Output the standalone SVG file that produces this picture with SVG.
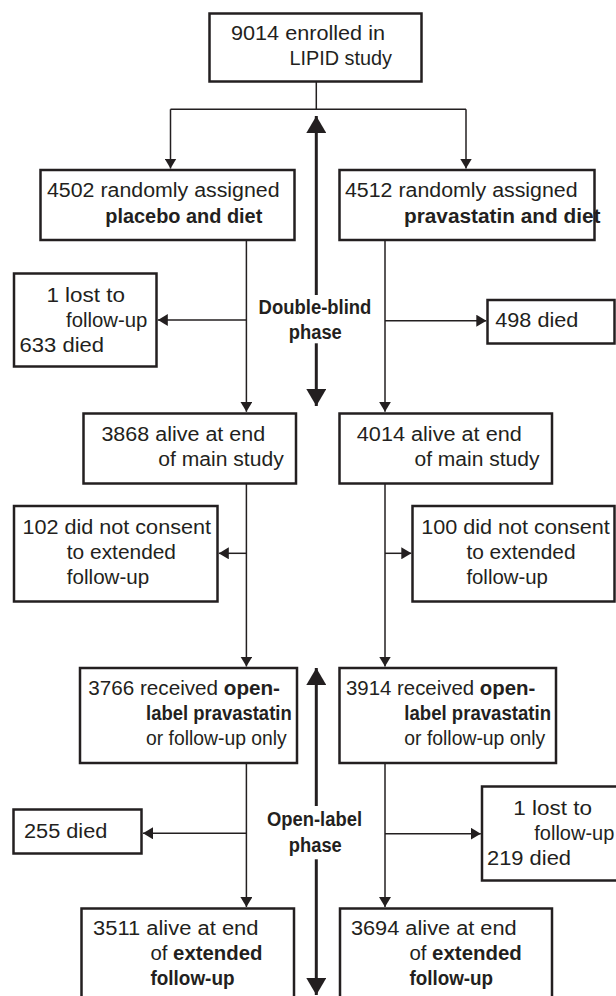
<svg xmlns="http://www.w3.org/2000/svg" width="616" height="996" viewBox="0 0 616 996">
<style>
.box{fill:#fff;stroke:#231f20;stroke-width:2.5}
.ln{fill:none;stroke:#231f20;stroke-width:1.5}
.ph{fill:none;stroke:#231f20;stroke-width:3}
text{font-family:"Liberation Sans",Arial,sans-serif;font-size:19.5px;fill:#231f20}
.b{font-weight:bold}
.lbl{font-weight:bold;font-size:19.5px;text-anchor:middle}
</style>
<defs>
<marker id="ah" viewBox="0 0 10 12" refX="10" refY="6" markerWidth="10" markerHeight="12" markerUnits="userSpaceOnUse" orient="auto"><path d="M0,0L10,6L0,12z" fill="#231f20"/></marker>
<marker id="ahT" viewBox="0 0 17 20" refX="17" refY="10" markerWidth="17" markerHeight="20" markerUnits="userSpaceOnUse" orient="auto"><path d="M0,0L17,10L0,20z" fill="#231f20"/></marker>
</defs>
<rect width="616" height="996" fill="#fff"/>
<g id="connectors">
<path class="ln" d="M316.3,81.7V109.3M170.5,109.3H466"/>
<path class="ln" d="M170.5,109.3V168.5" marker-end="url(#ah)"/>
<path class="ln" d="M466,109.3V168.5" marker-end="url(#ah)"/>
<path class="ln" d="M246.4,240V411.8" marker-end="url(#ah)"/>
<path class="ln" d="M246.4,320H157.8" marker-end="url(#ah)"/>
<path class="ln" d="M385,240V411.8" marker-end="url(#ah)"/>
<path class="ln" d="M385,320.7H486.3" marker-end="url(#ah)"/>
<path class="ln" d="M246.4,483.5V666.5" marker-end="url(#ah)"/>
<path class="ln" d="M246.4,553.3H218.8" marker-end="url(#ah)"/>
<path class="ln" d="M385,483.5V666.5" marker-end="url(#ah)"/>
<path class="ln" d="M385,553.3H411.3" marker-end="url(#ah)"/>
<path class="ln" d="M246.4,763V907" marker-end="url(#ah)"/>
<path class="ln" d="M246.4,833.3H143" marker-end="url(#ah)"/>
<path class="ln" d="M385,763V907" marker-end="url(#ah)"/>
<path class="ln" d="M385,833.7H480.8" marker-end="url(#ah)"/>
<path class="ph" d="M316.3,295V116" marker-end="url(#ahT)"/>
<path class="ph" d="M316.3,343.3V406" marker-end="url(#ahT)"/>
<path class="ph" d="M316.3,806V668" marker-end="url(#ahT)"/>
<path class="ph" d="M316.3,859.3V995" marker-end="url(#ahT)"/>
</g>
<g id="enrolled">
<rect class="box" x="209.5" y="13.5" width="212" height="68"/>
<text x="231" y="39.5" textLength="154" lengthAdjust="spacingAndGlyphs">9014 enrolled in</text>
<text x="289.5" y="65" textLength="102.5" lengthAdjust="spacingAndGlyphs">LIPID study</text>
</g>
<g id="placebo">
<rect class="box" x="40.5" y="170" width="254" height="70"/>
<text x="47" y="196.5" textLength="232.6" lengthAdjust="spacingAndGlyphs">4502 randomly assigned</text>
<text x="105.3" y="222.5" class="b" textLength="157" lengthAdjust="spacingAndGlyphs">placebo and diet</text>
</g>
<g id="pravastatin">
<rect class="box" x="339.5" y="170" width="255" height="70"/>
<text x="345" y="196.5" textLength="232.6" lengthAdjust="spacingAndGlyphs">4512 randomly assigned</text>
<text x="404" y="222.5" class="b" textLength="196.5" lengthAdjust="spacingAndGlyphs">pravastatin and diet</text>
</g>
<g id="lost-placebo-db">
<rect class="box" x="14" y="273.5" width="142.5" height="93"/>
<text x="46.4" y="301.5" textLength="78.6" lengthAdjust="spacingAndGlyphs">1 lost to</text>
<text x="66" y="326.5" textLength="81.3" lengthAdjust="spacingAndGlyphs">follow-up</text>
<text x="19.6" y="351.5" textLength="84.5" lengthAdjust="spacingAndGlyphs">633 died</text>
</g>
<g id="died-prava-db">
<rect class="box" x="487.5" y="300" width="127" height="43.5"/>
<text x="495.3" y="327" textLength="83" lengthAdjust="spacingAndGlyphs">498 died</text>
</g>
<g id="phase-double-blind">
<text class="lbl" x="315" y="313.5" textLength="112.8" lengthAdjust="spacingAndGlyphs">Double-blind</text>
<text class="lbl" x="315.3" y="338.5" textLength="53" lengthAdjust="spacingAndGlyphs">phase</text>
</g>
<g id="alive-placebo-main">
<rect class="box" x="83.5" y="413.5" width="212.5" height="70"/>
<text x="101.4" y="440.5" textLength="163.8" lengthAdjust="spacingAndGlyphs">3868 alive at end</text>
<text x="158.3" y="466" textLength="125.4" lengthAdjust="spacingAndGlyphs">of main study</text>
</g>
<g id="alive-prava-main">
<rect class="box" x="339.5" y="413.5" width="212.5" height="70"/>
<text x="356.8" y="440.5" textLength="165" lengthAdjust="spacingAndGlyphs">4014 alive at end</text>
<text x="414.5" y="466" textLength="125" lengthAdjust="spacingAndGlyphs">of main study</text>
</g>
<g id="noconsent-placebo">
<rect class="box" x="14" y="506" width="203.5" height="95.5"/>
<text x="22.4" y="533.5" textLength="188.6" lengthAdjust="spacingAndGlyphs">102 did not consent</text>
<text x="66.8" y="558.5" textLength="109.2" lengthAdjust="spacingAndGlyphs">to extended</text>
<text x="66.8" y="583.5" textLength="82.5" lengthAdjust="spacingAndGlyphs">follow-up</text>
</g>
<g id="noconsent-prava">
<rect class="box" x="412.5" y="506" width="202" height="95.5"/>
<text x="421.2" y="533.5" textLength="188.6" lengthAdjust="spacingAndGlyphs">100 did not consent</text>
<text x="466.4" y="558.5" textLength="109.2" lengthAdjust="spacingAndGlyphs">to extended</text>
<text x="466.4" y="583.5" textLength="81.5" lengthAdjust="spacingAndGlyphs">follow-up</text>
</g>
<g id="open-placebo">
<rect class="box" x="80" y="668" width="217" height="95"/>
<text x="88.3" y="695" textLength="191.7" lengthAdjust="spacingAndGlyphs">3766 received <tspan class="b">open-</tspan></text>
<text x="146" y="720" class="b" textLength="145.7" lengthAdjust="spacingAndGlyphs">label pravastatin</text>
<text x="146" y="745" textLength="140.7" lengthAdjust="spacingAndGlyphs">or follow-up only</text>
</g>
<g id="open-prava">
<rect class="box" x="339.5" y="668" width="216.5" height="95"/>
<text x="346" y="695" textLength="189.3" lengthAdjust="spacingAndGlyphs">3914 received <tspan class="b">open-</tspan></text>
<text x="404.3" y="720" class="b" textLength="146.7" lengthAdjust="spacingAndGlyphs">label pravastatin</text>
<text x="404.3" y="745" textLength="141" lengthAdjust="spacingAndGlyphs">or follow-up only</text>
</g>
<g id="phase-open-label">
<text class="lbl" x="314.5" y="826" textLength="95" lengthAdjust="spacingAndGlyphs">Open-label</text>
<text class="lbl" x="315.3" y="851.5" textLength="53" lengthAdjust="spacingAndGlyphs">phase</text>
</g>
<g id="died-placebo-ol">
<rect class="box" x="13.5" y="809.5" width="128" height="44"/>
<text x="24" y="837.5" textLength="83.3" lengthAdjust="spacingAndGlyphs">255 died</text>
</g>
<g id="lost-prava-ol">
<rect class="box" x="482" y="786.5" width="140" height="94"/>
<text x="513.3" y="814.5" textLength="78.7" lengthAdjust="spacingAndGlyphs">1 lost to</text>
<text x="534.3" y="839.5" textLength="80" lengthAdjust="spacingAndGlyphs">follow-up</text>
<text x="487" y="865" textLength="84" lengthAdjust="spacingAndGlyphs">219 died</text>
</g>
<g id="alive-placebo-ext">
<rect class="box" x="81.5" y="908.5" width="212.5" height="100"/>
<text x="93" y="934.5" textLength="165.5" lengthAdjust="spacingAndGlyphs">3511 alive at end</text>
<text x="150.5" y="959.5" textLength="112" lengthAdjust="spacingAndGlyphs">of <tspan class="b">extended</tspan></text>
<text x="150.5" y="984.5" class="b" textLength="84" lengthAdjust="spacingAndGlyphs">follow-up</text>
</g>
<g id="alive-prava-ext">
<rect class="box" x="340" y="908.5" width="212" height="100"/>
<text x="350.9" y="934.5" textLength="165.8" lengthAdjust="spacingAndGlyphs">3694 alive at end</text>
<text x="409.4" y="959.5" textLength="112.4" lengthAdjust="spacingAndGlyphs">of <tspan class="b">extended</tspan></text>
<text x="409.4" y="984.5" class="b" textLength="83.7" lengthAdjust="spacingAndGlyphs">follow-up</text>
</g>
</svg>
